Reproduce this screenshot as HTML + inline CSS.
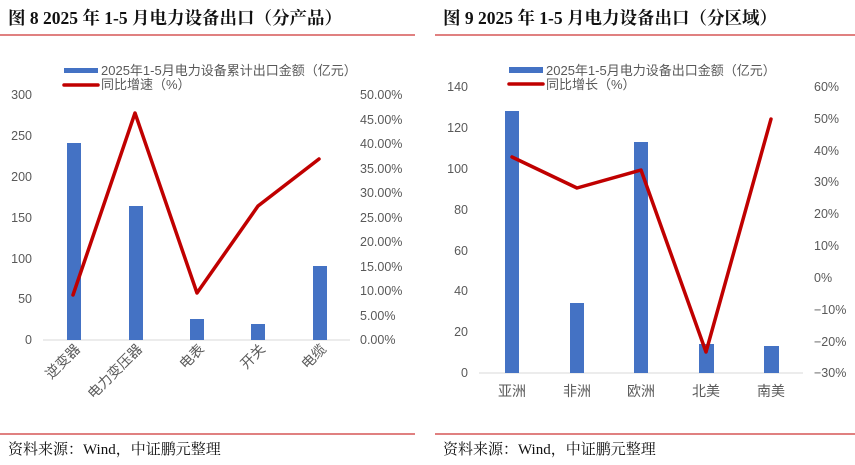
<!DOCTYPE html>
<html><head><meta charset="utf-8"><style>
body{margin:0;background:#fff}
svg{display:block}
.t{font-family:"Liberation Serif","Noto Serif CJK SC",serif;font-weight:bold;font-size:17.5px;fill:#111}
.s{font-family:"Liberation Serif","Noto Serif CJK SC",serif;font-size:15px;fill:#111}
.a{font-family:"Liberation Sans","Noto Sans CJK SC",sans-serif;font-size:12.5px;fill:#595959}
.l{font-family:"Liberation Sans","Noto Sans CJK SC",sans-serif;font-size:13px;fill:#595959}
.c{font-family:"Liberation Sans","Noto Sans CJK SC",sans-serif;font-size:14px;fill:#595959}
</style></head><body>
<svg width="855" height="465" viewBox="0 0 855 465" xmlns="http://www.w3.org/2000/svg">
<text x="8" y="24" class="t">图 8 2025 年 1-5 月电力设备出口（分产品）</text>
<text x="443" y="24" class="t">图 9 2025 年 1-5 月电力设备出口（分区域）</text>
<line x1="0" y1="35" x2="415" y2="35" stroke="#c00000" stroke-width="1"/>
<line x1="435" y1="35" x2="855" y2="35" stroke="#c00000" stroke-width="1"/>
<line x1="0" y1="434" x2="415" y2="434" stroke="#c00000" stroke-width="1"/>
<line x1="435" y1="434" x2="855" y2="434" stroke="#c00000" stroke-width="1"/>
<text x="8" y="454" class="s">资料来源：Wind，中证鹏元整理</text>
<text x="443" y="454" class="s">资料来源：Wind，中证鹏元整理</text>

<!-- Left chart -->
<rect x="64" y="68" width="34" height="5" fill="#4472c4"/>
<line x1="64" y1="85" x2="98" y2="85" stroke="#c00000" stroke-width="3.5" stroke-linecap="round"/>
<text x="101" y="75" class="l">2025年1-5月电力设备累计出口金额（亿元）</text>
<text x="101" y="89" class="l">同比增速（%）</text>
<g class="a" text-anchor="end">
<text x="32" y="99">300</text><text x="32" y="181">200</text><text x="32" y="140">250</text>
<text x="32" y="222">150</text><text x="32" y="263">100</text><text x="32" y="303">50</text><text x="32" y="344">0</text>
</g>
<g class="a" text-anchor="start">
<text x="360" y="99">50.00%</text><text x="360" y="124">45.00%</text><text x="360" y="148">40.00%</text>
<text x="360" y="173">35.00%</text><text x="360" y="197">30.00%</text><text x="360" y="222">25.00%</text>
<text x="360" y="246">20.00%</text><text x="360" y="271">15.00%</text><text x="360" y="295">10.00%</text>
<text x="360" y="320">5.00%</text><text x="360" y="344">0.00%</text>
</g>
<line x1="43" y1="340" x2="350" y2="340" stroke="#d9d9d9" stroke-width="1"/>
<rect x="67" y="143" width="14" height="197" fill="#4472c4"/>
<rect x="129" y="206" width="14" height="134" fill="#4472c4"/>
<rect x="190" y="319" width="14" height="21" fill="#4472c4"/>
<rect x="251" y="324" width="14" height="16" fill="#4472c4"/>
<rect x="313" y="266" width="14" height="74" fill="#4472c4"/>
<polyline points="73,295 135,113 197,293 258,206 319,159" fill="none" stroke="#c00000" stroke-width="3.5" stroke-linejoin="round" stroke-linecap="round"/>
<g class="c" text-anchor="end">
<text transform="translate(81,350) rotate(-45)">逆变器</text>
<text transform="translate(143,350) rotate(-45)">电力变压器</text>
<text transform="translate(205,350) rotate(-45)">电表</text>
<text transform="translate(266,350) rotate(-45)">开关</text>
<text transform="translate(327,350) rotate(-45)">电缆</text>
</g>

<!-- Right chart -->
<rect x="509" y="67" width="34" height="6" fill="#4472c4"/>
<line x1="509" y1="84" x2="543" y2="84" stroke="#c00000" stroke-width="3.5" stroke-linecap="round"/>
<text x="546" y="75" class="l">2025年1-5月电力设备出口金额（亿元）</text>
<text x="546" y="89" class="l">同比增长（%）</text>
<g class="a" text-anchor="end">
<text x="468" y="91">140</text><text x="468" y="132">120</text><text x="468" y="173">100</text>
<text x="468" y="214">80</text><text x="468" y="255">60</text><text x="468" y="295">40</text>
<text x="468" y="336">20</text><text x="468" y="377">0</text>
</g>
<g class="a" text-anchor="start">
<text x="814" y="91">60%</text><text x="814" y="123">50%</text><text x="814" y="155">40%</text>
<text x="814" y="186">30%</text><text x="814" y="218">20%</text><text x="814" y="250">10%</text>
<text x="814" y="282">0%</text><text x="814" y="314">−10%</text><text x="814" y="346">−20%</text>
<text x="814" y="377">−30%</text>
</g>
<line x1="479" y1="373" x2="803" y2="373" stroke="#d9d9d9" stroke-width="1"/>
<rect x="505" y="111" width="14" height="262" fill="#4472c4"/>
<rect x="570" y="303" width="14" height="70" fill="#4472c4"/>
<rect x="634" y="142" width="14" height="231" fill="#4472c4"/>
<rect x="699" y="344" width="15" height="29" fill="#4472c4"/>
<rect x="764" y="346" width="15" height="27" fill="#4472c4"/>
<polyline points="512,157 577,188 641,170 706,352 771,119" fill="none" stroke="#c00000" stroke-width="3.5" stroke-linejoin="round" stroke-linecap="round"/>
<g class="c" text-anchor="middle">
<text x="512" y="396">亚洲</text><text x="577" y="396">非洲</text><text x="641" y="396">欧洲</text>
<text x="706" y="396">北美</text><text x="771" y="396">南美</text>
</g>
</svg>
</body></html>
